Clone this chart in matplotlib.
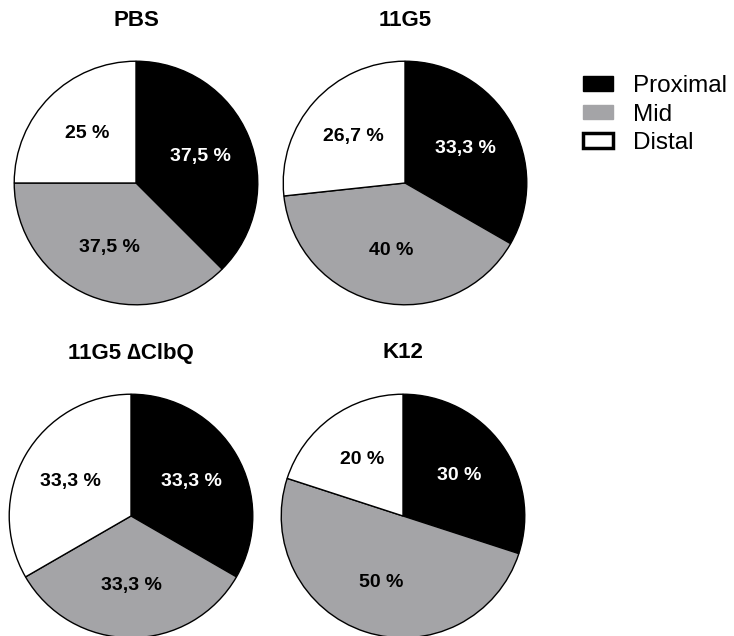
import matplotlib
matplotlib.use('Agg')
import matplotlib.pyplot as plt
from matplotlib.patches import Patch

plt.rcParams['font.family'] = ['Liberation Sans', 'DejaVu Sans']

categories = ['Proximal', 'Mid', 'Distal']
titles = ['PBS', '11G5', '11G5 \u2206ClbQ', 'K12']
values = [
    [37.5, 37.5, 25.0],
    [33.3, 40.0, 26.7],
    [33.3, 33.3, 33.3],
    [30.0, 50.0, 20.0],
]
labels = [
    ['37,5 %', '37,5 %', '25 %'],
    ['33,3 %', '40 %', '26,7 %'],
    ['33,3 %', '33,3 %', '33,3 %'],
    ['30 %', '50 %', '20 %'],
]
colors = ['black', '#a4a4a7', 'white']
text_colors = ['white', 'black', 'black']

W, H = 734, 636
fig = plt.figure(figsize=(W / 100, H / 100), dpi=100)

# pie centres / radius in pixels
centres = [(136, 183), (405, 183), (131, 516), (403, 516)]
radius = 123

for i, (cx, cy) in enumerate(centres):
    ax = fig.add_axes([(cx - radius) / W, (H - cy - radius) / H, 2 * radius / W, 2 * radius / H])
    wedges, texts = ax.pie(values[i], colors=colors, startangle=90, counterclock=False,
                           labels=labels[i], labeldistance=0.57, radius=1,
                           wedgeprops=dict(edgecolor='black', linewidth=1))
    for t, c in zip(texts, text_colors):
        t.set_color(c)
        t.set_fontsize(14)
        t.set_fontweight('bold')
        t.set_ha('center')
        t.set_va('center')
    ax.set_xlim(-1.01, 1.01)
    ax.set_ylim(-1.01, 1.01)
    ax.set_aspect('equal')
    ax.axis('off')
    fig.text(cx / W, 1 - (cy - 163) / H, titles[i], ha='center', va='center',
             fontsize=16, fontweight='bold')

handles = [Patch(facecolor='black', edgecolor='black'),
           Patch(facecolor='#a4a4a7', edgecolor='#a4a4a7'),
           Patch(facecolor='white', edgecolor='black', linewidth=2.5)]
fig.legend(handles, categories, loc='upper left', bbox_to_anchor=(583 / W, 1 - 75 / H),
           frameon=False, fontsize=17.5, handlelength=1.25, handleheight=0.55,
           labelspacing=0.27, handletextpad=0.8, borderpad=0, borderaxespad=0)

fig.savefig('out.png', dpi=100)
